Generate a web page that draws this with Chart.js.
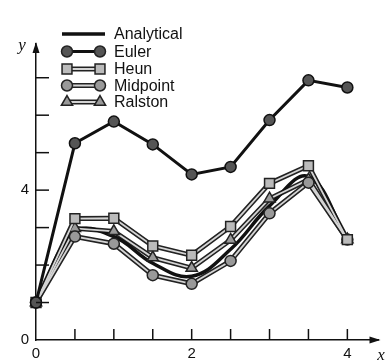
<!DOCTYPE html>
<html>
<head>
<meta charset="utf-8">
<script src="https://cdn.jsdelivr.net/npm/chart.js@4"></script>
<style>
  body { margin: 0; background: #fff; }
</style>
</head>
<body>
<canvas id="odeChart" width="387" height="361"></canvas>
<script>
// step size 0.5
const xValues = [0, 0.5, 1, 1.5, 2, 2.5, 3, 3.5, 4];
const analytical = [1, 2.88, 2.76, 2.05, 1.7, 2.42, 3.58, 4.36, 2.68];
const euler = [1, 5.25, 5.83, 5.22, 4.42, 4.62, 5.87, 6.93, 6.74];
const heun = [1, 3.24, 3.25, 2.51, 2.26, 3.03, 4.18, 4.65, 2.68];
const midpoint = [1, 2.76, 2.57, 1.73, 1.5, 2.11, 3.38, 4.2, 2.68];
const ralston = [1, 2.98, 2.9, 2.2, 1.92, 2.67, 3.77, 4.28, 2.68];

const xTickLabels = [0, 2, 4];
const yTickLabels = [0, 4];
const legendNames = ["Analytical", "Euler", "Heun", "Midpoint", "Ralston"];

const ink = "#111";
Chart.defaults.font.family = "'Liberation Sans', Arial, sans-serif";
Chart.defaults.color = ink;

function toPoints(values) {
  return values.map((y, i) => ({ x: xValues[i], y: y }));
}

// the numerical methods are drawn as a dark band with a light core
function bandLine(label, values, pointStyle, radius, fill) {
  return [
    {
      label: label,
      data: toPoints(values),
      borderColor: "#d4d4d4",
      borderWidth: 1.8,
      pointStyle: pointStyle,
      pointRadius: radius,
      pointBackgroundColor: fill,
      pointBorderColor: "#222",
      pointBorderWidth: 1.5,
      order: 1,
    },
    {
      label: label + " band",
      data: toPoints(values),
      borderColor: "#222",
      borderWidth: 5,
      pointRadius: 0,
      order: 3,
    },
  ];
}

const legendRows = [
  { name: legendNames[0], y: 34, kind: "solid" },
  { name: legendNames[1], y: 51.5, kind: "solid", style: "circle", r: 5.5, fill: "#555" },
  { name: legendNames[2], y: 69, kind: "band", style: "rect", r: 7, fill: "#bbb" },
  { name: legendNames[3], y: 85.5, kind: "band", style: "circle", r: 5.5, fill: "#999" },
  { name: legendNames[4], y: 102, kind: "band", style: "triangle", r: 6.5, fill: "#999" },
];

const decorPlugin = {
  id: "decor",
  afterDraw(chart) {
    const ctx = chart.ctx;
    const area = chart.chartArea;
    const xs = chart.scales.x;
    const ys = chart.scales.y;
    ctx.save();
    ctx.strokeStyle = ink;
    ctx.fillStyle = ink;
    ctx.lineWidth = 1.5;

    // inward tick marks
    xValues.slice(1).forEach((v) => {
      const px = xs.getPixelForValue(v);
      ctx.beginPath();
      ctx.moveTo(px, area.bottom);
      ctx.lineTo(px, area.bottom - 11);
      ctx.stroke();
    });
    ys.ticks.forEach((t) => {
      if (t.value <= 0 || t.value % 1 !== 0) return;
      const py = ys.getPixelForValue(t.value);
      ctx.beginPath();
      ctx.moveTo(area.left, py);
      ctx.lineTo(area.left + 13, py);
      ctx.stroke();
    });

    // arrow heads
    ctx.beginPath();
    ctx.moveTo(area.left, area.top - 2);
    ctx.lineTo(area.left - 3.5, area.top + 9);
    ctx.lineTo(area.left + 3.5, area.top + 9);
    ctx.closePath();
    ctx.fill();
    ctx.beginPath();
    ctx.moveTo(area.right + 2, area.bottom);
    ctx.lineTo(area.right - 9, area.bottom - 3.5);
    ctx.lineTo(area.right - 9, area.bottom + 3.5);
    ctx.closePath();
    ctx.fill();

    // axis names
    ctx.font = "italic 17px 'Liberation Serif', serif";
    ctx.textAlign = "center";
    ctx.textBaseline = "middle";
    ctx.fillText("y", 22, 46);
    ctx.fillText("x", 381, 356);

    // legend
    legendRows.forEach((row) => {
      if (row.kind === "band") {
        ctx.strokeStyle = "#222";
        ctx.lineWidth = 5;
        ctx.beginPath();
        ctx.moveTo(67, row.y);
        ctx.lineTo(100, row.y);
        ctx.stroke();
        ctx.strokeStyle = "#d4d4d4";
        ctx.lineWidth = 1.8;
        ctx.stroke();
      } else {
        ctx.strokeStyle = ink;
        ctx.lineWidth = row.style ? 3 : 3.5;
        ctx.beginPath();
        ctx.moveTo(row.style ? 67 : 62, row.y);
        ctx.lineTo(row.style ? 100 : 105, row.y);
        ctx.stroke();
      }
      if (row.style) {
        [67, 100].forEach((px) => {
          ctx.fillStyle = row.fill;
          ctx.strokeStyle = "#222";
          ctx.lineWidth = 1.5;
          Chart.helpers.drawPoint(ctx, { pointStyle: row.style, radius: row.r, rotation: 0, borderWidth: 1.5 }, px, row.y);
        });
      }
      ctx.fillStyle = ink;
      ctx.font = "16px 'Liberation Sans', Arial, sans-serif";
      ctx.textAlign = "left";
      ctx.fillText(row.name, 114, row.y + 1);
    });
    ctx.restore();
  },
};

const ctx = document.getElementById("odeChart");

new Chart(ctx, {
  type: "line",
  data: {
    datasets: [
      {
        label: "Euler",
        data: toPoints(euler),
        borderColor: ink,
        borderWidth: 3,
        pointStyle: "circle",
        pointRadius: 5.5,
        pointBackgroundColor: "#555",
        pointBorderColor: ink,
        pointBorderWidth: 1.5,
        order: 1,
      },
      ...bandLine("Heun", heun, "rect", 7, "#bbb"),
      ...bandLine("Midpoint", midpoint, "circle", 5.5, "#999"),
      ...bandLine("Ralston", ralston, "triangle", 6.5, "#999"),
      {
        label: "Analytical",
        data: toPoints(analytical),
        borderColor: ink,
        borderWidth: 3.5,
        tension: 0.4,
        pointRadius: 0,
        order: 2,
      },
    ],
  },
  options: {
    responsive: false,
    animation: false,
    clip: false,
    layout: { padding: { top: 44, right: 6, left: 0, bottom: 0 } },
    plugins: {
      legend: { display: false },
      tooltip: { enabled: false },
    },
    scales: {
      x: {
        type: "linear",
        min: 0,
        max: 4.4,
        afterFit: (scale) => { scale.height = 21; },
        grid: { display: false, drawTicks: false },
        border: { display: true, color: ink, width: 1.5 },
        ticks: {
          stepSize: 0.5,
          includeBounds: false,
          autoSkip: false,
          maxRotation: 0,
          padding: 5,
          font: { size: 15 },
          callback: (v) => (xTickLabels.includes(v) ? String(v) : ""),
        },
      },
      y: {
        min: 0,
        max: 7.9,
        afterFit: (scale) => { scale.width = 36; },
        grid: { display: false, drawTicks: false },
        border: { display: true, color: ink, width: 1.5 },
        ticks: {
          stepSize: 1,
          includeBounds: false,
          autoSkip: false,
          padding: 7,
          font: { size: 15 },
          callback: (v) => (yTickLabels.includes(v) ? String(v) : ""),
        },
      },
    },
  },
  plugins: [decorPlugin],
});
</script>
</body>
</html>
